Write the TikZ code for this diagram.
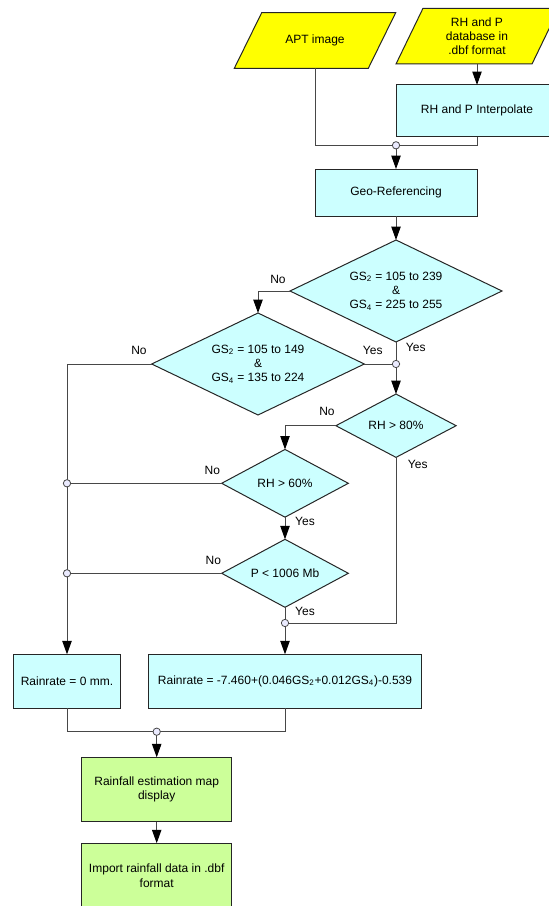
\documentclass[tikz,border=0pt]{standalone}
\usepackage{fontspec}
\setmainfont{Liberation Sans}
\usetikzlibrary{shapes.geometric,arrows.meta}
\def\aptshape{(234.3,68.3) -- (261.7,12.7) -- (395.7,12.7) -- (368.3,68.3) -- cycle}
\def\rhdbshape{(396,64) -- (423,8.3) -- (559,8.3) -- (532,64) -- cycle}
\definecolor{input area}{HTML}{FFFF00}
\definecolor{process area}{HTML}{CCFFFF}
\definecolor{output area}{HTML}{CCFF99}
\colorlet{box edge}{black!85}
\colorlet{flow edge}{black!72}
\tikzset{base/.style={draw=box edge, line width=0.75pt, outer sep=0pt, align=center,
		font=\fontsize{9}{10.8}\selectfont},
	iobox/.style={draw=box edge, line width=0.75pt, fill=input area},
	io/.style={rectangle, align=center, outer sep=0pt, font=\fontsize{9}{10.8}\selectfont},
	process/.style={base, rectangle, fill=process area},
	result/.style={base, rectangle, fill=output area},
	decision/.style={base, diamond, aspect=2, inner sep=0pt, fill=process area},
	answer/.style={font=\fontsize{9}{10.8}\selectfont, inner sep=0pt},
	flow/.style={draw=flow edge, line width=0.75pt},
	flowarrow/.style={flow, -{Triangle[length=10pt,width=7pt,color=black]}},
	junction/.style={circle, draw=flow edge, fill=blue!8, line width=0.6pt,
		inner sep=0pt, minimum size=5.5pt}}

\begin{document}
\begin{tikzpicture}[x=0.75pt,y=-0.75pt]
	\useasboundingbox (0,0) rectangle (549,906);
	% inputs
	\draw[iobox] \aptshape;
	\draw[iobox] \rhdbshape;
	\node[io, minimum height=41.7pt] (apt) at (315,40.5) {APT image};
	\node[io, minimum height=41.8pt] (rhdb) at (477,36.2) {RH and P\\database in\\.dbf format};
	\node[process, minimum width=120.75pt, minimum height=38.8pt] (interp) at (477,110.8) {RH and P Interpolate};
	\node[process, minimum width=121.5pt, minimum height=35.25pt] (geo) at (396,192.5) {Geo-Referencing};
	% decisions
	\node[decision, minimum width=159pt, minimum height=76.5pt] (d1) at (396,291)
		{GS\textsubscript{2} = 105 to 239\\\&\\GS\textsubscript{4} = 225 to 255};
	\node[decision, minimum width=159.5pt, minimum height=76.5pt] (d2) at (258,364)
		{GS\textsubscript{2} = 105 to 149\\\&\\GS\textsubscript{4} = 135 to 224};
	\node[decision, minimum width=90.2pt, minimum height=47.5pt] (d3) at (396,425.7) {RH > 80\%};
	\node[decision, minimum width=95pt, minimum height=50.8pt] (d4) at (285,483.3) {RH > 60\%};
	\node[decision, minimum width=95pt, minimum height=51pt] (d5) at (285,573.3) {P < 1006 Mb};
	% rain rates and output
	\node[process, minimum width=80.6pt, minimum height=40.5pt] (r0) at (67,681.3) {Rainrate = 0 mm.};
	\node[process, minimum width=204.75pt, minimum height=40.5pt] (r1) at (285,681.3)
		{Rainrate = -7.460+(0.046GS\textsubscript{2}+0.012GS\textsubscript{4})-0.539};
	\node[result, minimum width=112.5pt, minimum height=48.3pt] (map) at (156.7,789.5) {Rainfall estimation map\\display};
	\node[result, minimum width=112.5pt, minimum height=48.75pt] (imp) at (156.7,875.7) {Import rainfall data in .dbf\\format};
	% joints
	\coordinate (j1) at (396,145.3);
	\coordinate (j2) at (396,364);
	\coordinate (j3) at (67,483.3);
	\coordinate (j4) at (67,573.3);
	\coordinate (j5) at (285,623);
	\coordinate (j6) at (156.7,731.7);
	% connectors
	\draw[flow] (apt.south) |- (j1);
	\draw[flow] (interp.south) |- (j1);
	\draw[flowarrow] (rhdb.south) -- (interp.north);
	\draw[flowarrow] (j1) -- (geo.north);
	\draw[flowarrow] (geo) -- (d1);
	\draw[flowarrow] (d1.west) -| (d2.north);
	\draw[flow] (d1.south) -- (j2);
	\draw[flow] (d2.east) -- (j2);
	\draw[flowarrow] (j2) -- (d3.north);
	\draw[flowarrow] (d2.west) -| (r0.north);
	\draw[flowarrow] (d3.west) -| (d4.north);
	\draw[flow] (d3.south) |- (j5);
	\draw[flow] (d4.west) -- (j3);
	\draw[flowarrow] (d4) -- (d5);
	\draw[flow] (d5.west) -- (j4);
	\draw[flow] (d5.south) -- (j5);
	\draw[flowarrow] (j5) -- (r1.north);
	\draw[flow] (r0.south) |- (j6);
	\draw[flow] (r1.south) |- (j6);
	\draw[flowarrow] (j6) -- (map.north);
	\draw[flowarrow] (map) -- (imp);
	\foreach \j in {j1,j2,j3,j4,j5,j6}
		\node[junction] (dot-\j) at (\j) {};
	% answers
	\node[answer] (no1) at (278,279) {No};
	\node[answer] (yes1) at (415.7,347.7) {Yes};
	\node[answer] (no2) at (139,350.7) {No};
	\node[answer] (yes2) at (372.7,350) {Yes};
	\node[answer] (no3) at (327,411.7) {No};
	\node[answer] (yes3) at (417.7,464) {Yes};
	\node[answer] (no4) at (212.3,470.7) {No};
	\node[answer] (yes4) at (305,521.7) {Yes};
	\node[answer] (no5) at (213.3,560.7) {No};
	\node[answer] (yes5) at (305,611.7) {Yes};
\end{tikzpicture}
\end{document}
